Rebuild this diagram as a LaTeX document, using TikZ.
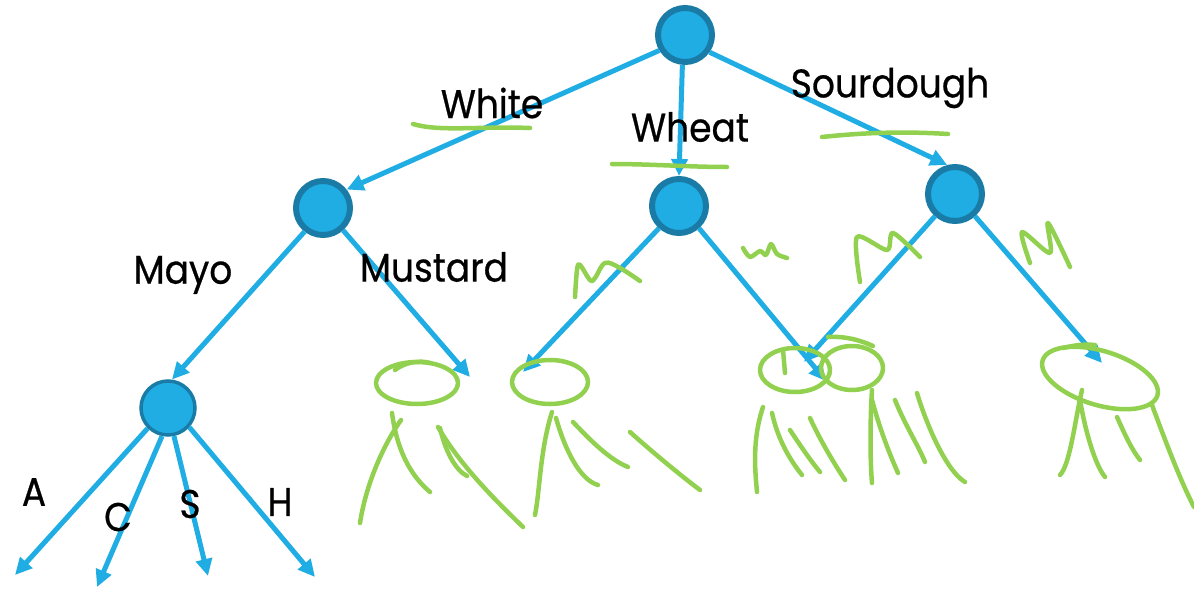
\documentclass[tikz,border=0pt]{standalone}
\usepackage{fontspec}
\setmainfont{Poppins}[FakeStretch=0.9,FakeBold=0.6]
\usetikzlibrary{arrows.meta}
\definecolor{nodeblue}{HTML}{1FADE4}
\definecolor{nodeedge}{HTML}{1A7CA6}
\definecolor{scribble}{HTML}{92D050}
\begin{document}
\begin{tikzpicture}[x=1pt,y=-1pt,
  tnode/.style={circle,fill=nodeblue,draw=nodeedge,line width=6pt,minimum size=54pt,inner sep=0pt},
  edge/.style={draw=nodeblue,line width=5pt,-{Triangle[length=17pt,width=16pt]}},
  lbl/.style={font=\fontsize{40}{44}\selectfont,inner sep=0pt,text=black},
  ink/.style={draw=scribble,line width=4.5pt,line cap=round,line join=round}]
\useasboundingbox (0,0) rectangle (1194,589);

% tree nodes
\node[tnode] (root) at (685,35) {};
\node[tnode] (wn) at (323,208) {};
\node[tnode] (hn) at (679,206) {};
\node[tnode] (sn) at (955,194) {};
\node[tnode,line width=3.5pt,minimum size=54pt] (mn) at (168,408) {};

% free ends
\coordinate (mus) at (470,377);
\coordinate (hl) at (523,372);
\coordinate (hr) at (826,381);
\coordinate (sl) at (804,362);
\coordinate (sr) at (1102,363);
\coordinate (ta) at (15,575);
\coordinate (tc) at (97,587);
\coordinate (ts) at (208,576);
\coordinate (th) at (315,577);

% connectors
\draw[edge] (root.211) -- (wn.38);
\draw[edge] (root.265) -- (hn.north);
\draw[edge] (root.325) -- (sn.105);
\draw[edge] (wn.232) -- (mn.82);
\draw[edge] (wn.312) -- (mus);
\draw[edge] (hn.228) -- (hl);
\draw[edge] (hn.312) -- (hr);
\draw[edge] (sn.228) -- (sl);
\draw[edge] (sn.312) -- (sr);
\draw[edge] (mn.225) -- (ta);
\draw[edge] (mn.258) -- (tc);
\draw[edge] (mn.282) -- (ts);
\draw[edge] (mn.318) -- (th);

% labels
\node[lbl] (lwhite) at (492,103) {White};
\node[lbl] (lwheat) at (690,127) {Wheat};
\node[lbl] (lsour) at (890,88) {Sourdough};
\node[lbl] (lmayo) at (183,275) {Mayo};
\node[lbl] (lmust) at (434,267) {Mustard};
\node[lbl] (la) at (34,492) {A};
\node[lbl] (lc) at (118,517) {C};
\node[lbl] (ls) at (190,504) {S};
\node[lbl] (lh) at (280,502) {H};

% handwritten underlines
\draw[ink] (413,124) .. controls (440,132) and (480,126) .. (530,128);
\draw[ink] (612,164) .. controls (650,164) and (690,167) .. (727,167);
\draw[ink] (822,137) .. controls (860,133) and (900,131) .. (948,134);

% handwritten letters
\draw[ink] plot[smooth,tension=0.6] coordinates {(575,297) (577,270) (580,265) (590,280) (595,278) (605,263) (620,268) (640,281)};
\draw[ink] plot[smooth,tension=0.5] coordinates {(743,248) (750,257) (760,251) (766,255) (771,244) (777,254) (787,258)};
\draw[ink] plot[smooth,tension=0.5] coordinates {(860,282) (857,237) (887,250) (893,233) (920,257)};
\draw[ink] plot[smooth,tension=0.5] coordinates {(1030,263) (1022,232) (1050,253) (1048,223) (1070,267)};

% sketched sub-trees
\draw[ink] (417,383) ellipse [x radius=41, y radius=21];
\draw[ink] (395,370) .. controls (405,362) and (420,360) .. (430,363);
\draw[ink] (401,420) .. controls (380,450) and (365,490) .. (360,523);
\draw[ink] (392,413) .. controls (397,450) and (410,475) .. (430,492);
\draw[ink] (438,427) .. controls (460,465) and (495,500) .. (523,527);
\draw[ink] (440,428) .. controls (445,450) and (455,470) .. (467,476);

\draw[ink] (550,382) ellipse [x radius=38, y radius=22];
\draw[ink] (552,412) .. controls (540,450) and (540,490) .. (535,515);
\draw[ink] (556,418) .. controls (565,450) and (580,480) .. (598,485);
\draw[ink] (573,422) .. controls (590,440) and (610,460) .. (628,467);
\draw[ink] (630,432) .. controls (650,450) and (680,475) .. (700,490);

\draw[ink] (795,370) ellipse [x radius=35, y radius=22];
\draw[ink] (783,350) -- (785,373);
\draw[ink] (852,368) ellipse [x radius=31, y radius=22];
\draw[ink] (828,337) .. controls (845,336) and (860,340) .. (873,346);
\draw[ink] (763,407) .. controls (752,440) and (755,470) .. (757,492);
\draw[ink] (772,413) .. controls (778,440) and (790,460) .. (802,475);
\draw[ink] (790,430) .. controls (800,445) and (810,460) .. (820,472);
\draw[ink] (810,418) .. controls (820,440) and (835,465) .. (845,480);
\draw[ink] (872,390) .. controls (870,420) and (870,460) .. (872,483);
\draw[ink] (872,400) .. controls (880,430) and (890,455) .. (898,473);
\draw[ink] (895,400) .. controls (905,425) and (918,445) .. (925,462);
\draw[ink] (917,393) .. controls (925,420) and (945,470) .. (965,482);

\draw[ink,rotate around={-17:(1100,378)}] (1100,378) ellipse [x radius=60, y radius=27];
\draw[ink] (1063,348) .. controls (1075,345) and (1085,344) .. (1095,345);
\draw[ink] (1082,390) .. controls (1075,420) and (1070,465) .. (1060,475);
\draw[ink] (1080,400) .. controls (1085,430) and (1095,465) .. (1105,477);
\draw[ink] (1117,417) .. controls (1125,435) and (1132,450) .. (1140,460);
\draw[ink] (1152,405) .. controls (1165,440) and (1180,480) .. (1194,507);
\end{tikzpicture}
\end{document}
